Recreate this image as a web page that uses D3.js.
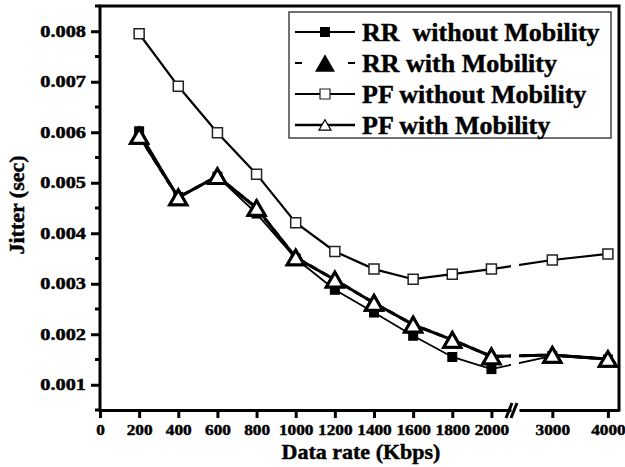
<!DOCTYPE html>
<html>
<head>
<meta charset="utf-8">
<script src="https://cdn.jsdelivr.net/npm/d3@7"></script>
<style>
    body { margin: 0; background: white; }
    svg { display: block; font-family: "Liberation Serif", "Times New Roman", serif; font-weight: bold; }
    svg text { stroke: black; stroke-width: 0.45px; }
    .legend-label { white-space: pre; }
</style>
</head>
<body>
<div class="mainview"></div>
<script>

// data ////////////////////////////////

const rates = [200, 400, 600, 800, 1000, 1200, 1400, 1600, 1800, 2000, 3000, 4000];

const rrWithout = [0.00602, 0.00472, 0.00512, 0.00439, 0.00350, 0.00288, 0.00243, 0.00197, 0.00155, 0.00131, 0.00157, 0.00150];
const rrWith    = [0.00593, 0.00471, 0.00513, 0.00450, 0.00352, 0.00308, 0.00262, 0.00219, 0.00189, 0.00156, 0.00159, 0.00151];
const pfWithout = [0.00795, 0.00691, 0.00599, 0.00517, 0.00421, 0.00364, 0.00329, 0.00309, 0.00319, 0.00329, 0.00347, 0.00359];
const pfWith    = [0.00593, 0.00471, 0.00513, 0.00450, 0.00352, 0.00308, 0.00262, 0.00219, 0.00189, 0.00156, 0.00159, 0.00151];

const seriesNames = ["RR  without Mobility", "RR with Mobility", "PF without Mobility", "PF with Mobility"];

const xTicksLow = [0, 200, 400, 600, 800, 1000, 1200, 1400, 1600, 1800, 2000];
const xTicksHigh = [3000, 4000];
const yTicks = [0.001, 0.002, 0.003, 0.004, 0.005, 0.006, 0.007, 0.008];
const yMinorTicks = [0.0005, 0.0015, 0.0025, 0.0035, 0.0045, 0.0055, 0.0065, 0.0075, 0.0085];

// layout ////////////////////////////////////////////////

const dim = { width: 625, height: 467 };
const plot = { left: 100, right: 619, top: 6, bottom: 410 };
const brk = { left: 511, right: 519 };

const xLow = d3.scaleLinear().domain([0, 2100]).range([plot.left, brk.left]);
const xHigh = d3.scaleLinear().domain([2400, 4200]).range([brk.right, plot.right]);
const x = v => v <= 2100 ? xLow(v) : xHigh(v);

const y = d3.scaleLinear()
    .domain([0.0005, 0.0085])
    .range([plot.bottom, plot.top]);

// marker + line styles per series
const styles = [
    { marker: "square", fill: "black", stroke: "black", size: 10, mw: 0, lw: 1.8, dash: null },
    { marker: "triangle", fill: "black", stroke: "black", size: 17, mw: 3, lw: 3, dash: "8,5" },
    { marker: "square", fill: "white", stroke: "#222", size: 10, mw: 1.5, lw: 2.2, dash: null },
    { marker: "triangle", fill: "white", stroke: "black", size: 17, mw: 3, lw: 3, dash: null }
];

const series = [rrWithout, rrWith, pfWithout, pfWith].map((vals, k) => ({
    name: seriesNames[k],
    style: styles[k],
    points: rates.map((r, i) => ({ rate: r, value: vals[i] }))
}));

function markerPath(type, s) {
    if (type === "square") {
        return `M${-s / 2},${-s / 2}h${s}v${s}h${-s}Z`;
    }
    const h = s * Math.sqrt(3) / 2;
    return `M0,${-h / 2}L${s / 2},${h / 2}L${-s / 2},${h / 2}Z`;
}

// chart ////////////////////////////////////////////////

const svg = d3.select(".mainview").append("svg")
    .attr("width", dim.width)
    .attr("height", dim.height);

svg.append("rect")
    .attr("width", dim.width).attr("height", dim.height)
    .attr("fill", "white");

const clip = svg.append("defs").append("clipPath").attr("id", "break-clip");
clip.append("rect")
    .attr("x", 0).attr("y", 0)
    .attr("width", brk.left).attr("height", dim.height);
clip.append("rect")
    .attr("x", brk.right).attr("y", 0)
    .attr("width", dim.width - brk.right).attr("height", dim.height);

// y axis
const yAxis = d3.axisLeft(y)
    .tickValues(yTicks)
    .tickFormat(d3.format(".3f"))
    .tickSize(9)
    .tickSizeOuter(0);

svg.append("g")
    .attr("class", "axis y")
    .attr("transform", `translate(${plot.left}, 0)`)
    .call(yAxis)
    .call(g => g.select(".domain").remove())
    .call(g => g.selectAll(".tick line").attr("stroke-width", 3))
    .call(g => g.selectAll(".tick text")
        .attr("font-size", 16)
        .attr("font-family", "Liberation Serif")
        .attr("font-weight", "bold")
        .attr("fill", "black")
        .attr("x", -14 / 1.27)
        .attr("transform", "scale(1.27,1)"));

svg.append("g")
    .attr("transform", `translate(${plot.left}, 0)`)
    .selectAll("line")
    .data(yMinorTicks)
    .join("line")
    .attr("x1", -5).attr("x2", 0)
    .attr("y1", d => y(d)).attr("y2", d => y(d))
    .attr("stroke", "black")
    .attr("stroke-width", 3);

// x axis, two pieces either side of the break
[[xLow, xTicksLow], [xHigh, xTicksHigh]].forEach(([scale, ticks]) => {
    svg.append("g")
        .attr("class", "axis x")
        .attr("transform", `translate(0, ${plot.bottom})`)
        .call(d3.axisBottom(scale).tickValues(ticks).tickFormat(d3.format("d")).tickSize(8).tickSizeOuter(0))
        .call(g => g.select(".domain").attr("stroke-width", 3))
        .call(g => g.selectAll(".tick line").attr("stroke-width", 3))
        .call(g => g.selectAll(".tick text")
            .attr("font-size", 15)
            .attr("font-family", "Liberation Serif")
            .attr("font-weight", "bold")
            .attr("fill", "black")
            .attr("y", 25).attr("dy", 0)
            .attr("transform", "scale(1.15,1)"));
});

// frame: left, top, right
svg.append("path")
    .attr("d", `M${plot.left},${plot.bottom + 1.5}V${plot.top}H${plot.right}V${plot.bottom + 1.5}`)
    .attr("fill", "none")
    .attr("stroke", "black")
    .attr("stroke-width", 3);

// break marks
svg.append("g")
    .selectAll("line")
    .data([brk.left - 2, brk.right - 5])
    .join("line")
    .attr("x1", d => d - 3).attr("y1", plot.bottom + 8)
    .attr("x2", d => d + 3).attr("y2", plot.bottom - 7)
    .attr("stroke", "black")
    .attr("stroke-width", 3);

// axis titles
svg.append("text")
    .attr("x", 361).attr("y", 459)
    .attr("text-anchor", "middle")
    .attr("font-size", 22)
    .text("Data rate (Kbps)");

svg.append("text")
    .attr("transform", "translate(24, 205) rotate(-90)")
    .attr("text-anchor", "middle")
    .attr("font-size", 22)
    .text("Jitter (sec)");

// lines + markers
const line = d3.line()
    .x(d => x(d.rate))
    .y(d => y(d.value));

const layers = svg.append("g");
series.forEach(s => {
    const g = layers.append("g");
    g.append("path")
        .attr("clip-path", "url(#break-clip)")
        .attr("d", line(s.points))
        .attr("fill", "none")
        .attr("stroke", "black")
        .attr("stroke-width", s.style.lw)
        .attr("stroke-dasharray", s.style.dash);
    g.selectAll("path.marker")
        .data(s.points)
        .join("path")
        .attr("class", "marker")
        .attr("transform", d => `translate(${x(d.rate)}, ${y(d.value)})`)
        .attr("d", markerPath(s.style.marker, s.style.size))
        .attr("fill", s.style.fill)
        .attr("stroke", s.style.stroke)
        .attr("stroke-width", s.style.mw);
});

// legend
const legend = svg.append("g").attr("transform", "translate(289, 12)");
legend.append("rect")
    .attr("width", 322).attr("height", 126)
    .attr("fill", "white")
    .attr("stroke", "#444")
    .attr("stroke-width", 1.5);

const legendStyles = [
    { marker: "square", fill: "black", stroke: "black", size: 10, mw: 0, lw: 1.8, dash: null },
    { marker: "triangle", fill: "black", stroke: "black", size: 20, mw: 0, lw: 1.8, dash: "7,46" },
    { marker: "square", fill: "white", stroke: "#222", size: 10, mw: 1.2, lw: 2.2, dash: null },
    { marker: "triangle", fill: "white", stroke: "black", size: 12, mw: 1.2, lw: 2.5, dash: null }
];

const rows = legend.selectAll("g.row")
    .data(series)
    .join("g")
    .attr("class", "row")
    .attr("transform", (d, i) => `translate(0, ${20 + i * 31})`);

rows.append("line")
    .attr("x1", 6).attr("x2", 66)
    .attr("stroke", "black")
    .attr("stroke-width", (d, i) => legendStyles[i].lw)
    .attr("stroke-dasharray", (d, i) => legendStyles[i].dash);

rows.append("path")
    .attr("transform", "translate(36, 0)")
    .attr("d", (d, i) => markerPath(legendStyles[i].marker, legendStyles[i].size))
    .attr("fill", (d, i) => legendStyles[i].fill)
    .attr("stroke", (d, i) => legendStyles[i].stroke)
    .attr("stroke-width", (d, i) => legendStyles[i].mw);

rows.append("text")
    .attr("class", "legend-label")
    .attr("x", 73).attr("y", 9)
    .attr("font-size", 26)
    .text(d => d.name);

</script>
</body>
</html>
